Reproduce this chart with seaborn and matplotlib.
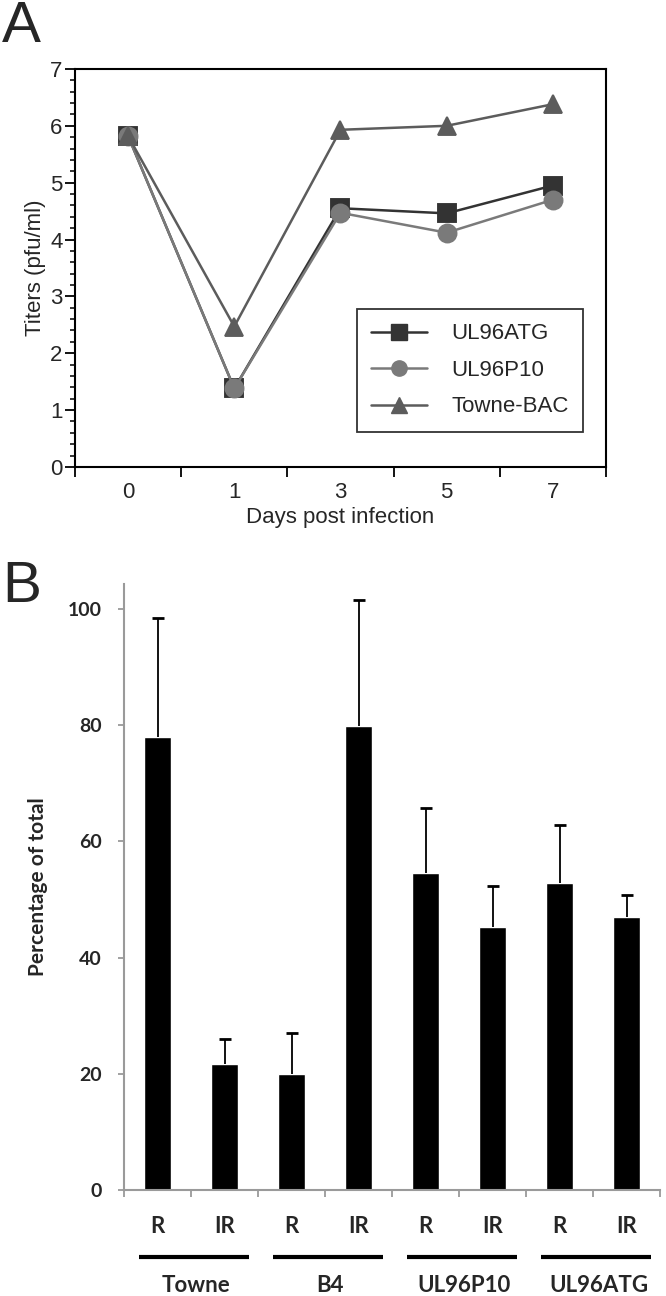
import seaborn as sns
import pandas as pd
import numpy as np
import matplotlib.pyplot as plt
from matplotlib.lines import Line2D

# panel A data: virus titers over days post infection
days = ["0", "1", "3", "5", "7"]
ul96atg = [5.82, 1.38, 4.55, 4.46, 4.95]
ul96p10 = [5.82, 1.38, 4.47, 4.12, 4.70]
towne_bac = [5.82, 2.47, 5.93, 6.00, 6.38]
viruses = ["UL96ATG", "UL96P10", "Towne-BAC"]

# panel B data: percentage of total
bar_groups = ["Towne", "Towne", "B4", "B4", "UL96P10", "UL96P10", "UL96ATG", "UL96ATG"]
bar_types = ["R", "IR", "R", "IR", "R", "IR", "R", "IR"]
bar_values = [78.0, 21.7, 20.0, 79.8, 54.6, 45.3, 52.8, 47.0]
bar_errors = [20.4, 4.3, 7.0, 21.8, 11.2, 7.1, 10.0, 3.8]
group_names = ["Towne", "B4", "UL96P10", "UL96ATG"]

sns.set_theme(style="white")
plt.rcParams['font.family'] = ['Liberation Sans', 'DejaVu Sans']

fig = plt.figure(figsize=(6.66, 12.96), dpi=100)

#
## PANEL A
#
ax1 = fig.add_axes([0.1126, 0.6397, 0.7973, 0.3071])

titers = pd.DataFrame({
    'day': days * 3,
    'titer': ul96atg + ul96p10 + towne_bac,
    'virus': [v for v in viruses for _ in days],
})
palette = {"UL96ATG": "#333333", "UL96P10": "#7a7a7a", "Towne-BAC": "#5c5c5c"}
sns.pointplot(data=titers, x='day', y='titer', hue='virus', order=days, hue_order=viruses,
              palette=palette, markers=['s', 'o', '^'], linestyles=['-', '-', '-'],
              errorbar=None, markersize=13, linewidth=1.8, ax=ax1)

ax1.set_xlim(-0.5, 4.5)
ax1.set_ylim(0, 7)
ax1.set_yticks(np.arange(0, 8, 1))
ax1.set_yticks(np.arange(0, 7.01, 0.2), minor=True)
ax1.set_xticks(np.arange(-0.5, 4.6, 1), minor=True)
ax1.tick_params(axis='y', which='major', direction='out', length=7, width=1.3, pad=2,
                labelsize=16, left=True, color='black')
ax1.tick_params(axis='y', which='minor', direction='out', length=3.5, width=1.1, left=True,
                color='black')
ax1.tick_params(axis='x', which='major', length=0, pad=11, labelsize=16)
ax1.tick_params(axis='x', which='minor', direction='out', length=7, width=1.3, bottom=True,
                color='black')
for s in ax1.spines.values():
    s.set_color('black')
    s.set_linewidth(1.5)
ax1.set_xlabel("Days post infection", fontsize=16, labelpad=3)
ax1.set_ylabel("Titers (pfu/ml)", fontsize=16, labelpad=3)

handles = [Line2D([], [], color=palette[v], marker=m, markersize=11, linewidth=1.8)
           for v, m in zip(viruses, ['s', 'o', '^'])]
leg = ax1.legend(handles, viruses, loc='lower left', bbox_to_anchor=(0.531, 0.088),
                 fontsize=16, frameon=True, fancybox=False, edgecolor='black',
                 handlelength=2.5, handletextpad=1.1, labelspacing=0.7,
                 borderpad=0.65, borderaxespad=0)
leg.get_frame().set_linewidth(1.3)

fig.text(0.003, 1.0, "A", fontsize=42, va='top', ha='left')

#
## PANEL B
#
ax2 = fig.add_axes([0.1862, 0.0818, 0.805, 0.4676])

bars = pd.DataFrame({'key': [g + " " + t for g, t in zip(bar_groups, bar_types)],
                     'value': bar_values})
sns.barplot(data=bars, x='key', y='value', order=list(bars['key']), color='black',
            width=0.4, errorbar=None, saturation=1, ax=ax2)
pos = np.arange(len(bar_values))
eb = ax2.errorbar(pos, bar_values, yerr=[np.zeros(len(bar_errors)), bar_errors], fmt='none',
                  ecolor='black', elinewidth=1.3, capsize=4, capthick=2)
# only keep the upper caps
eb[1][0].set_visible(False)

bold = dict(family=['Lato', 'DejaVu Sans'], fontweight='bold')
ax2.set_xlim(-0.5, 7.5)
ax2.set_ylim(0, 104.3)
ax2.set_yticks(np.arange(0, 101, 20))
ax2.set_yticklabels([str(v) for v in range(0, 101, 20)], fontsize=14, **bold)
ax2.set_xticks(pos)
ax2.set_xticklabels(bar_types, fontsize=16, **bold)
ax2.set_xticks(np.arange(-0.5, 7.6, 1), minor=True)
ax2.tick_params(axis='x', which='major', length=0, pad=19)
ax2.tick_params(axis='x', which='minor', direction='out', length=5, width=1.3, bottom=True,
                color='#9a9a9a')
ax2.tick_params(axis='y', which='major', direction='out', length=4, width=1.3, left=True,
                color='#9a9a9a', pad=12)
ax2.set_xlabel("")
ax2.set_ylabel("Percentage of total", fontsize=15, labelpad=14, **bold)
sns.despine(ax=ax2)
for s in ['left', 'bottom']:
    ax2.spines[s].set_color('#9a9a9a')
    ax2.spines[s].set_linewidth(1.5)

# group underlines and names
trans = ax2.get_xaxis_transform()
for i, name in enumerate(group_names):
    ax2.plot([2 * i - 0.28, 2 * i + 1.36], [-0.11, -0.11], transform=trans, color='black',
             linewidth=3, clip_on=False, solid_capstyle='butt')
    ax2.text(2 * i + 0.58, -0.157, name, transform=trans, ha='center', va='center',
             fontsize=16, **bold)

fig.text(0.003, 0.568, "B", fontsize=42, va='top', ha='left')

fig.savefig("out.png", dpi=100)
